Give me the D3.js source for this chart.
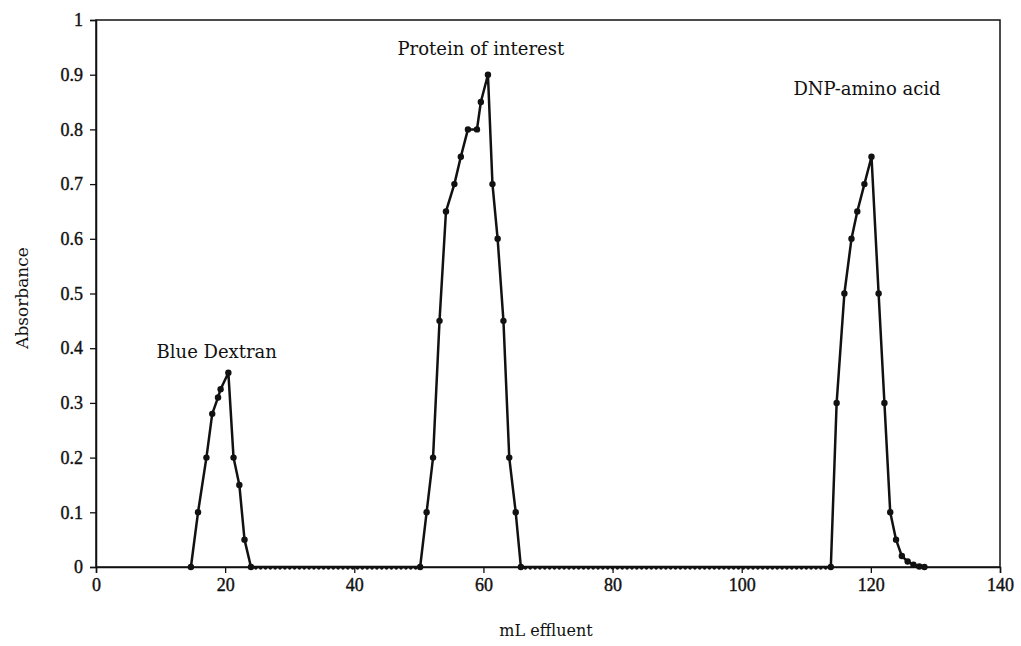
<!DOCTYPE html>
<html>
<head>
<meta charset="utf-8">
<script src="https://cdn.jsdelivr.net/npm/d3@7"></script>
<style>
  body { margin: 0; background: #fff; }
  text { font-family: "DejaVu Serif", "Liberation Serif", serif; fill: #111; }
</style>
</head>
<body>
<svg width="1021" height="646"></svg>
<script>
// absorbance readings, [mL effluent, absorbance]
var dextran = [[14.7,0],[15.8,0.1],[17.1,0.2],[18,0.28],[18.9,0.31],[19.3,0.325],[20.5,0.355],[21.3,0.2],[22.2,0.15],[23,0.05],[24,0]];
var protein = [[50.2,0],[51.2,0.1],[52.2,0.2],[53.2,0.45],[54.2,0.65],[55.5,0.7],[56.5,0.75],[57.6,0.8],[59,0.8],[59.6,0.85],[60.7,0.9],[61.4,0.7],[62.2,0.6],[63.1,0.45],[64,0.2],[65,0.1],[65.8,0]];
var dnp = [[113.8,0],[114.7,0.3],[115.9,0.5],[117,0.6],[117.9,0.65],[119,0.7],[120.1,0.75],[121.2,0.5],[122.1,0.3],[123,0.1],[123.9,0.05],[124.8,0.02],[125.7,0.01],[126.6,0.004],[127.5,0.001],[128.3,0]];

// fractions with zero absorbance between the peaks (mL)
var baseline1 = [24.75,25.5,26.25,27,27.75,28.5,29.25,30,30.75,31.5,32.25,33,33.75,34.5,35.25,36,36.75,37.5,38.25,39,39.75,40.5,41.25,42,42.75,43.5,44.25,45,45.75,46.5,47.25,48,48.75,49.5];
var baseline2 = [66.5,67.25,68,68.75,69.5,70.25,71,71.75,72.5,73.25,74,74.75,75.5,76.25,77,77.75,78.5,79.25,80,80.75,81.5,82.25,83,83.75,84.5,85.25,86,86.75,87.5,88.25,89,89.75,90.5,91.25,92,92.75,93.5,94.25,95,95.75,96.5,97.25,98,98.75,99.5,100.25,101,101.75,102.5,103.25,104,104.75,105.5,106.25,107,107.75,108.5,109.25,110,110.75,111.5,112.25,113];

var xTicks = [0,20,40,60,80,100,120,140];
var yTicks = [0,0.1,0.2,0.3,0.4,0.5,0.6,0.7,0.8,0.9,1];

var peakLabels = [
    {text: "Blue Dextran", x: 18.7, y: 0.382},
    {text: "Protein of interest", x: 59.6, y: 0.936},
    {text: "DNP-amino acid", x: 119.4, y: 0.862}
];

var svg = d3.select("svg");
var mLeft = 96, mTop = 20, mRight = 1000, mBottom = 567;

var x = d3.scaleLinear().domain([0, 140]).range([mLeft, mRight]);
var y = d3.scaleLinear().domain([0, 1]).range([mBottom, mTop]);

var zeros1 = baseline1.map(function (v) { return [v, 0]; });
var zeros2 = baseline2.map(function (v) { return [v, 0]; });
var all = dextran.concat(zeros1, protein, zeros2, dnp);

// frame
svg.append("rect")
    .attr("x", mLeft).attr("y", mTop)
    .attr("width", mRight - mLeft).attr("height", mBottom - mTop)
    .attr("fill", "none").attr("stroke", "#111").attr("stroke-width", 1.5);

var xAxis = svg.append("g")
    .attr("transform", "translate(0," + mBottom + ")")
    .call(d3.axisBottom(x).tickValues(xTicks).tickSize(6).tickPadding(5).tickFormat(d3.format("d")));
var yAxis = svg.append("g")
    .attr("transform", "translate(" + mLeft + ",0)")
    .call(d3.axisLeft(y).tickValues(yTicks).tickSize(6).tickPadding(7)
        .tickFormat(function (d) { return d === 0 ? "0" : d === 1 ? "1" : d.toFixed(1); }));

[xAxis, yAxis].forEach(function (g) {
    g.select(".domain").attr("stroke", "#111").attr("stroke-width", 1.5);
    g.selectAll(".tick line").attr("stroke", "#111").attr("stroke-width", 1.3);
    g.selectAll(".tick text").attr("font-size", 18).attr("fill", "#111")
        .attr("stroke", "#111").attr("stroke-width", 0.4)
        .style("font-family", "Liberation Serif, serif");
});

var line = d3.line()
    .x(function (d) { return x(d[0]); })
    .y(function (d) { return y(d[1]); });

svg.append("path")
    .datum(all)
    .attr("d", line)
    .attr("fill", "none")
    .attr("stroke", "#111")
    .attr("stroke-width", 2.5)
    .attr("stroke-linejoin", "round");

svg.selectAll("circle.zero")
    .data(zeros1.concat(zeros2))
    .enter().append("circle")
    .attr("class", "zero")
    .attr("cx", function (d) { return x(d[0]); })
    .attr("cy", function (d) { return y(d[1]) + 1; })
    .attr("r", 1.7)
    .attr("fill", "#111");

svg.selectAll("circle.pt")
    .data(dextran.concat(protein, dnp))
    .enter().append("circle")
    .attr("class", "pt")
    .attr("cx", function (d) { return x(d[0]); })
    .attr("cy", function (d) { return y(d[1]); })
    .attr("r", 3.2)
    .attr("fill", "#111");

svg.selectAll("text.peak")
    .data(peakLabels)
    .enter().append("text")
    .attr("class", "peak")
    .attr("x", function (d) { return x(d.x); })
    .attr("y", function (d) { return y(d.y); })
    .attr("text-anchor", "middle")
    .attr("font-size", 18)
    .text(function (d) { return d.text; });

svg.append("text")
    .attr("x", 546)
    .attr("y", 636)
    .attr("text-anchor", "middle")
    .attr("font-size", 16)
    .text("mL effluent");

svg.append("text")
    .attr("transform", "translate(28,298) rotate(-90)")
    .attr("text-anchor", "middle")
    .attr("font-size", 17)
    .text("Absorbance");
</script>
</body>
</html>
